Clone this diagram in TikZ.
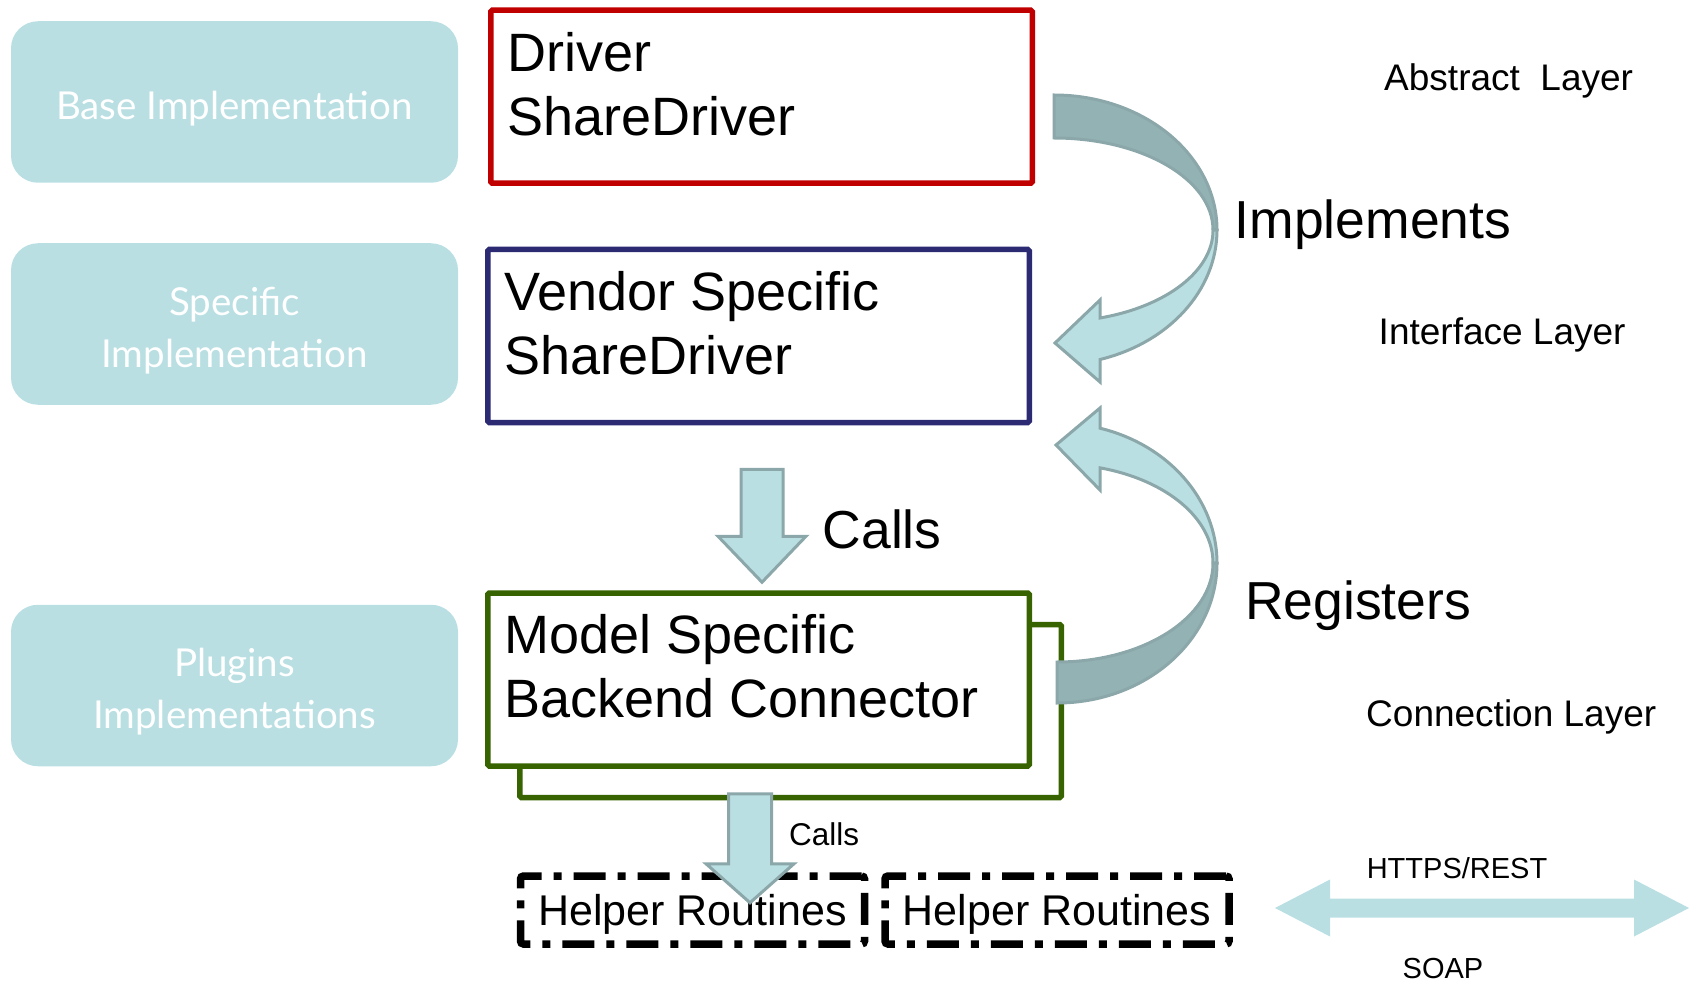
\documentclass[tikz,border=0pt]{standalone}
\usepackage{fontspec}
\setmainfont{Liberation Sans}
\newfontfamily\implfont{Lato}
\usetikzlibrary{positioning,calc}
\definecolor{implfill}{HTML}{B9DFE3}
\definecolor{bandlight}{HTML}{B9DFE3}
\definecolor{banddark}{HTML}{93B2B4}
\definecolor{bandline}{HTML}{8BA7A9}
\definecolor{drvred}{HTML}{C00000}
\definecolor{drvnavy}{HTML}{2B2A73}
\definecolor{drvgreen}{HTML}{376400}
\tikzset{
  impl_n/.style = {rectangle, rounded corners=27pt, fill=implfill,
    inner sep=0pt, minimum width=447pt, minimum height=161.5pt},
  impl_t/.style = {align=center, inner sep=0pt, text=white,
    font=\implfont\fontsize{38.5}{52}\selectfont},% white text on the teal boxes
  layer_box/.style = {rectangle, fill=white, line width=5.5pt, rounded corners=1.5pt,
    minimum width=541.5pt, minimum height=173pt, inner sep=0pt},
  layer_txt/.style = {align=left, inner sep=0pt, outer sep=0pt,
    font=\fontsize{54}{64}\selectfont},% text inside the layer boxes
  helper_box/.style = {rectangle, draw=black, line width=7.5pt,
    dash pattern=on 32pt off 12pt on 8pt off 12pt, rounded corners=3pt,
    minimum width=344pt, minimum height=68pt, inner sep=0pt,
    text height=30pt, text depth=0pt, font=\fontsize{43}{50}\selectfont},
  verb_t/.style = {inner sep=0pt, anchor=base west, font=\fontsize{53.5}{64}\selectfont},
  name_t/.style = {inner sep=0pt, anchor=base west, font=\fontsize{37}{44}\selectfont},
  proto_t/.style = {inner sep=0pt, anchor=base, font=\fontsize{29}{34}\selectfont},
  band_l/.style = {fill=bandlight, draw=bandline, line width=3pt, line join=miter},
  band_d/.style = {fill=banddark, draw=bandline, line width=3pt, line join=miter}
}

\begin{document}
\begin{tikzpicture}[x=1pt, y=-1pt]
\useasboundingbox (0,0) rectangle (1689,984);

% left column
\node [impl_n] (baseimpl) at (234.5,102) {};
\node [impl_n] (specimpl) at (234.5,324) {};
\node [impl_n] (plugimpl) at (234.5,685.5) {};
\node [impl_t] (basetxt) at ([yshift=-6.5pt]baseimpl.center) {Base Implementation};
\node [impl_t] (spectxt) at ([yshift=-6.5pt]specimpl.center) {Specific\\Implementation};
\node [impl_t] (plugtxt) at ([yshift=-6.5pt]plugimpl.center) {Plugins\\Implementations};

% layer boxes
\node [layer_box, draw=drvred] (driver) at (761.5,96.75) {};
\node [layer_box, draw=drvnavy] (vendor) at (758.5,336) {};
\node [layer_box, draw=drvgreen] (modelback) at (790.5,711) {};
\node [layer_box, draw=drvgreen] (model) at (758.5,679.5) {};

\node [layer_txt, below right=24.5pt and 19.5pt of driver.north west] (drivertxt) {Driver\\ShareDriver};
\node [layer_txt, below right=24.5pt and 19.5pt of vendor.north west] (vendortxt) {Vendor Specific\\ShareDriver};
\node [layer_txt, below right=24.5pt and 19.5pt of model.north west] (modeltxt) {Model Specific\\Backend Connector};

% helpers
\node [helper_box] (helperA) at (692.5,910) {Helper Routines};
\node [helper_box] (helperB) at (1057,910) {Helper Routines};

% implements
\draw [band_d] (1054,95) arc[start angle=-90, end angle=0, x radius=163, y radius=135]
  -- (1213,230) arc[start angle=0, end angle=-90, x radius=159, y radius=92] -- cycle;
\draw [band_l] (1217,230) arc[start angle=0, end angle=73.6, x radius=163, y radius=135]
  -- (1100,382) -- (1055,343) -- (1100,300) -- (1100,318)
  arc[start angle=73.2, end angle=0, x radius=159, y radius=92] -- cycle;

% registers
\draw [band_l] (1100,428.2) arc[start angle=-74.41, end angle=0, x radius=160, y radius=140]
  -- (1213,563) arc[start angle=0, end angle=-74.0, x radius=156, y radius=99]
  -- (1100,490) -- (1056,445) -- (1100,408) -- cycle;
\draw [band_d] (1217,563) arc[start angle=0, end angle=90, x radius=160, y radius=140]
  -- (1057,662) arc[start angle=90, end angle=0, x radius=156, y radius=99] -- cycle;

% calls
\path (vendor.south) ++(3.5,44) coordinate (callA);
\draw [band_l] (callA) ++(-21,0) -- ++(42,0) -- ++(0,67) -- ++(23,0) -- ++(-44,46)
  -- ++(-44,-46) -- ++(23,0) -- cycle;
\path (model.south) ++(-8.5,25) coordinate (callB);
\draw [band_l] (callB) ++(-21.5,0) -- ++(43,0) -- ++(0,70) -- ++(22.5,0) -- ++(-44,39)
  -- ++(-44,-39) -- ++(22.5,0) -- cycle;

% protocol arrow
\coordinate (protoL) at (1275,908);
\fill [bandlight] (protoL) -- ++(55,-28.5) -- ++(0,19) -- ++(304,0) -- ++(0,-19)
  -- ++(55,28.5) -- ++(-55,28.5) -- ++(0,-19) -- ++(-304,0) -- ++(0,19) -- cycle;

% labels
\node [name_t] (abstract) at (1384,91) {Abstract\ \ Layer};
\node [name_t] (interface) at (1378.5,344) {Interface Layer};
\node [name_t] (connection) at (1366,726.5) {Connection Layer};
\node [verb_t] (implements) at (1234.5,239) {Implements};
\node [verb_t] (registers) at (1245,619.4) {Registers};
\node [verb_t] (callsbig) at (822.5,548) {Calls};
\node [verb_t, font=\fontsize{31.5}{38}\selectfont] (callssmall) at (789,845) {Calls};
\node [proto_t] (https) at (1457,878) {HTTPS/REST};
\node [proto_t] (soap) at (1443,978) {SOAP};
\end{tikzpicture}
\end{document}
